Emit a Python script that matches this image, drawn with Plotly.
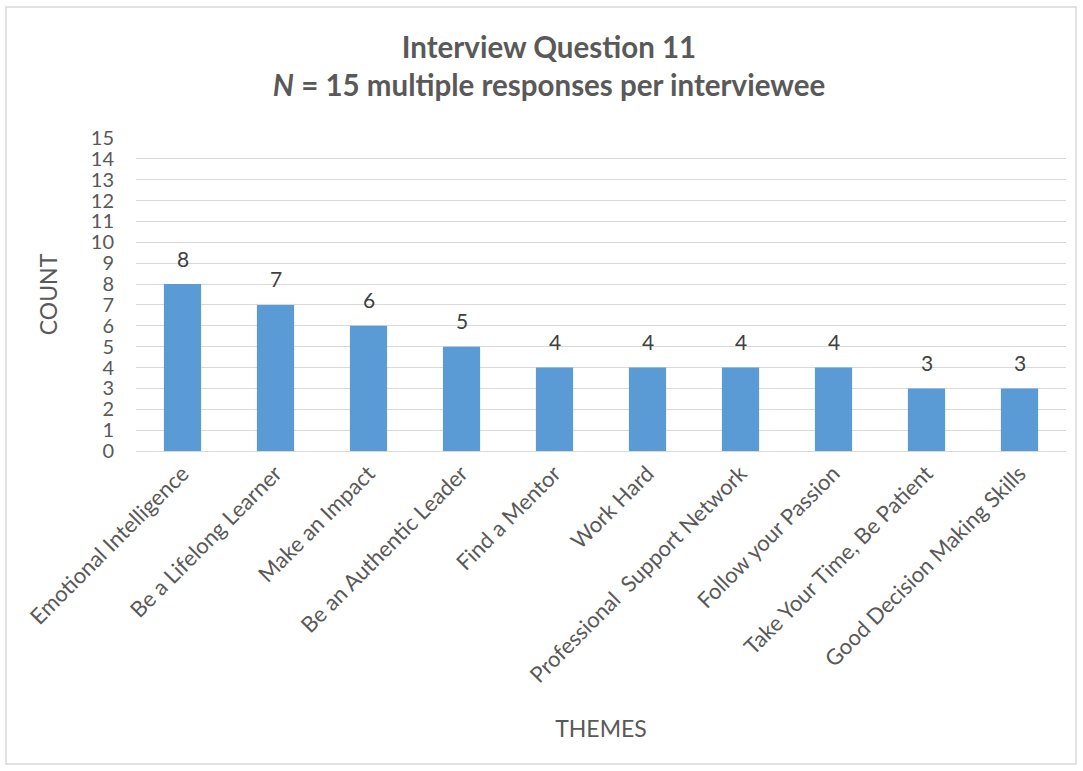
import plotly.graph_objects as go

categories = ["Emotional Intelligence", "Be a Lifelong Learner", "Make an Impact",
              "Be an Authentic Leader", "Find a Mentor", "Work Hard",
              "Professional  Support Network", "Follow your Passion",
              "Take Your Time, Be Patient", "Good Decision Making Skills"]
counts = [8, 7, 6, 5, 4, 4, 4, 4, 3, 3]
y_ticks = list(range(0, 16))

FONT = "Lato"
GRAY = "#595959"

fig = go.Figure()
fig.add_trace(go.Bar(x=categories, y=counts, marker=dict(color="#5B9BD5", line=dict(width=0)),
                     width=0.4, hoverinfo="x+y"))

for c, v in zip(categories, counts):
    fig.add_annotation(x=c, y=v, text=str(v), showarrow=False, yshift=26,
                       font=dict(family=FONT, size=21, color="#404040"))

fig.update_layout(
    width=1083, height=771,
    margin=dict(l=136, r=17, t=138, b=320),
    paper_bgcolor="white", plot_bgcolor="white",
    title=dict(text="<b>Interview Question 11</b><br><b><i>N</i> = 15 multiple responses per interviewee</b>",
               x=0.5, xref="paper", y=1 - 58 / 771, yanchor="middle",
               font=dict(family=FONT, size=29.5, color=GRAY)),
    showlegend=False, bargap=0.6,
    font=dict(family=FONT, color=GRAY),
)
fig.update_layout(title_x=(549 - 136) / 930)
fig.update_xaxes(tickangle=-45, tickfont=dict(family=FONT, size=22, color=GRAY),
                 showline=True, linecolor="#d9d9d9", linewidth=1, ticks="",
                 title=dict(text="THEMES", font=dict(family=FONT, size=23, color=GRAY), standoff=34))
fig.update_yaxes(range=[0, 15], tickvals=y_ticks, tickfont=dict(family=FONT, size=20, color=GRAY),
                 showgrid=True, gridcolor="#d9d9d9", gridwidth=1, zeroline=False,
                 ticks="", ticklabelstandoff=21,
                 title=dict(text="COUNT", font=dict(family=FONT, size=23, color=GRAY), standoff=26))

fig.add_shape(type="rect", xref="paper", yref="paper",
              x0=(6 - 136) / 930, x1=(1076 - 136) / 930,
              y0=(451 - 764) / 313, y1=(451 - 7) / 313,
              line=dict(color="#d9d9d9", width=1.5), fillcolor="rgba(0,0,0,0)", layer="below")

fig.write_html("out.html")
